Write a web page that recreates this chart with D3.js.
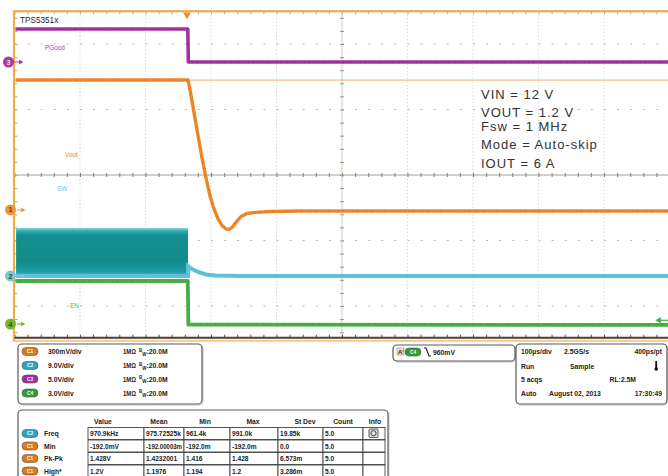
<!DOCTYPE html>
<html><head><meta charset="utf-8">
<script src="https://cdn.jsdelivr.net/npm/d3@7"></script>
<style>
body{margin:0;background:#fff;}
svg{display:block;font-family:"Liberation Sans",Arial,sans-serif;}
</style>
</head><body>
<svg id="c" width="668" height="476"></svg>
<script>
// ---------------- DATA ----------------
const timebaseUsPerDiv = 100;
const triggerPosDiv = 2.634;           // trigger point, divisions from left edge
// channel settings
const chNames = ["C1", "C2", "C3", "C4"];
const chVoltsPerDiv = [0.3, 9.0, 5.0, 3.0];
const chOffsetDiv = [-0.534, -1.542, 1.725, -2.275];
const chScaleLabels = ["300mV/div", "9.0V/div", "5.0V/div", "3.0V/div"];
const chTraceLabels = ["Vout", "SW", "PGood", "EN"];

// Vout (C1), time in us, volts
const voutT = [-263.4, 1.5, 4.6, 13.7, 22.9, 29.0, 35.1, 41.2, 47.3, 53.4, 59.5, 64.1, 68.7, 74.8, 82.4, 91.6, 105.3, 126.7, 172.5, 736.6];
const voutV = [0.595, 0.595, 0.550, 0.394, 0.238, 0.147, 0.064, 0.005, -0.041, -0.071, -0.087, -0.089, -0.080, -0.057, -0.030, -0.016, -0.011, -0.007, -0.005, -0.005];
// SW (C2) switching envelope before turn-off
const swBandT = [-261.0, 1.5];
const swBandHi = [6.6, 6.6];
const swBandLo = [0.0, 0.0];
// SW (C2) trace
const swT = [-261.0, 1.5, 1.6, 7.6, 16.8, 29.0, 42.7, 80.9, 736.6];
const swV = [0.0, 0.0, 1.37, 0.96, 0.55, 0.21, 0.07, 0.0, 0.0];
// PGood (C3)
const pgT = [-263.4, 1.2, 2.0, 736.6];
const pgV = [2.52, 2.52, 0.0, 0.0];
// EN (C4)
const enT = [-263.4, 1.2, 2.0, 736.6];
const enV = [1.97, 1.97, -0.03, -0.04];
// trigger
const trigLevelV = 0.17;               // C4 trigger level marker position (volts on C4)
const refLevelV = 0.595;               // C1 reference line after trigger

// annotation
const noteLines = ["VIN = 12 V", "VOUT = 1.2 V", "Fsw = 1 MHz", "Mode = Auto-skip", "IOUT = 6 A"];
const noteBaselines = [99, 117, 131, 149, 168];

// measurement table
const measCols = ["Value", "Mean", "Min", "Max", "St Dev", "Count", "Info"];
const measNames = ["Freq", "Min", "Pk-Pk", "High*"];
const measSrc = ["C2", "C1", "C1", "C1"];
const measValues = [
  ["970.9kHz", "975.72525k", "961.4k", "991.0k", "19.85k", "5.0"],
  ["-192.0mV", "-192.00003m", "-192.0m", "-192.0m", "0.0", "5.0"],
  ["1.428V", "1.4232001", "1.416", "1.428", "6.573m", "5.0"],
  ["1.2V", "1.1976", "1.194", "1.2", "3.286m", "5.0"]
];
// acquisition panel
const acqRows = [
  ["100µs/div", "2.5GS/s", "400ps/pt"],
  ["Run", "Sample", ""],
  ["5 acqs", "", "RL:2.5M"],
  ["Auto", "August 02, 2013", "17:30:49"]
];
const trigText = "960mV";

// ---------------- DRAWING ----------------
const svg = d3.select("#c");
const chColor = {C1: "#f0872a", C2: "#5cc2d8", C3: "#a8339f", C4: "#47b047"};
const pillColor = {C1: "#dd7a1c", C2: "#2fa6bf", C3: "#a22ca2", C4: "#2f9c35"};

const L = 14.5, R = 669.5, T = 11.25, B = 338.75;
const gx = d3.scaleLinear().domain([0, 10]).range([L, R]);
const gy = d3.scaleLinear().domain([-2.5, 2.5]).range([B, T]);
const xt = t => gx(triggerPosDiv + t / timebaseUsPerDiv);
const yc = (ci, v) => gy(v / chVoltsPerDiv[ci] + chOffsetDiv[ci]);

const defs = svg.append("defs");
defs.append("clipPath").attr("id", "plot").append("rect")
  .attr("x", L + 1).attr("y", T + 1).attr("width", R - L).attr("height", B - T - 1);
const g1 = defs.append("linearGradient").attr("id", "swg").attr("x1", 0).attr("x2", 0).attr("y1", 0).attr("y2", 1);
[[0, "#8fd6dc"], [0.06, "#2fb0b4"], [0.15, "#15908f"], [0.7, "#128a8a"], [0.92, "#1f9ea4"], [1, "#5cc2d8"]]
  .forEach(s => g1.append("stop").attr("offset", s[0]).attr("stop-color", s[1]));

const grid = svg.append("g");
d3.range(1, 10).forEach(i => {
  if (i === 5) return;
  grid.append("line").attr("x1", gx(i)).attr("x2", gx(i)).attr("y1", T).attr("y2", B)
    .attr("stroke", "#c4c4c4").attr("stroke-width", 1).attr("stroke-dasharray", "1,2.5");
});
[-2, -1, 1, 2].forEach(j => {
  grid.append("line").attr("x1", L).attr("x2", R).attr("y1", gy(j)).attr("y2", gy(j))
    .attr("stroke", "#b8b8b8").attr("stroke-width", 1.2).attr("stroke-dasharray", "2," + (65.5 / 5 - 2));
});
grid.append("line").attr("x1", L).attr("x2", R).attr("y1", gy(0)).attr("y2", gy(0)).attr("stroke", "#a89c90").attr("stroke-width", 1);
grid.append("line").attr("x1", gx(5)).attr("x2", gx(5)).attr("y1", T).attr("y2", B).attr("stroke", "#cfc8c0").attr("stroke-width", 1);

const minorX = d3.range(0, 10.01, 0.2);
const minorY = d3.range(-2.4, 2.41, 0.2);
function styleAxis(sel, col) {
  sel.select(".domain").remove();
  sel.selectAll("text").remove();
  sel.selectAll("line").attr("stroke", col).attr("stroke-width", 1);
}
svg.append("g").attr("transform", `translate(0,${T})`)
  .call(d3.axisBottom(gx).tickValues(minorX).tickSize(3)).call(styleAxis, "#b0a898");
svg.append("g").attr("transform", `translate(0,${gy(0) - 2})`)
  .call(d3.axisBottom(gx).tickValues(minorX).tickSize(4)).call(styleAxis, "#8a7e70");
svg.append("g").attr("transform", `translate(0,${B - 1})`)
  .call(d3.axisTop(gx).tickValues(minorX).tickSize(3)).call(styleAxis, "#5a4e44");
svg.append("g").attr("transform", `translate(${L},0)`)
  .call(d3.axisRight(gy).tickValues(minorY).tickSize(3)).call(styleAxis, "#b0a898");
svg.append("g").attr("transform", `translate(${gx(5) - 2},0)`)
  .call(d3.axisRight(gy).tickValues(minorY).tickSize(4)).call(styleAxis, "#a09484");

// frame
svg.append("line").attr("x1", L).attr("x2", 668).attr("y1", T).attr("y2", T).attr("stroke", "#f2a43a").attr("stroke-width", 2);
svg.append("line").attr("x1", L - 0.5).attr("x2", L - 0.5).attr("y1", T - 1).attr("y2", B + 3).attr("stroke", "#f2ac44").attr("stroke-width", 2.2);
svg.append("line").attr("x1", L).attr("x2", 668).attr("y1", B - 1).attr("y2", B - 1).attr("stroke", "#4a3f36").attr("stroke-width", 1.8);
svg.append("line").attr("x1", L - 1).attr("x2", 668).attr("y1", B + 2).attr("y2", B + 2).attr("stroke", "#f5c487").attr("stroke-width", 2.2);

// traces
const plot = svg.append("g").attr("clip-path", "url(#plot)");
const line = (ci, T_, V_) => d3.line().x((d, i) => xt(T_[i])).y((d, i) => yc(ci, V_[i]))(T_);

plot.append("line").attr("x1", xt(0)).attr("x2", R).attr("y1", yc(0, refLevelV)).attr("y2", yc(0, refLevelV))
  .attr("stroke", "#f4ae62").attr("stroke-width", 1);

const area = d3.area().x((d, i) => xt(swBandT[i])).y0((d, i) => yc(1, swBandLo[i])).y1((d, i) => yc(1, swBandHi[i]));
plot.append("path").attr("d", area(swBandT)).attr("fill", "url(#swg)");
plot.append("path").attr("d", line(1, swT, swV)).attr("fill", "none").attr("stroke", chColor.C2).attr("stroke-width", 4);

function trace(ci, T_, V_, col, w, dark) {
  plot.append("path").attr("d", line(ci, T_, V_)).attr("fill", "none").attr("stroke", col)
    .attr("stroke-width", w).attr("stroke-linejoin", "round");
  plot.append("path").attr("d", line(ci, T_, V_)).attr("fill", "none").attr("stroke", dark)
    .attr("stroke-width", 1).attr("stroke-opacity", 0.5).attr("stroke-dasharray", "1,3,2,5,1,2");
}
trace(3, enT, enV, chColor.C4, 3.8, "#2a8a2a");
trace(0, voutT, voutV, chColor.C1, 3.4, "#b85a10");
trace(2, pgT, pgV, chColor.C3, 3.6, "#6e1a68");

// trigger position marker
svg.append("path").attr("d", d3.symbol().type(d3.symbolTriangle).size(26)())
  .attr("transform", `translate(${xt(0)},${T + 3.5}) rotate(180)`).attr("fill", "#f08a24");
// trigger level marker (right)
const tly = yc(3, trigLevelV);
svg.append("line").attr("x1", 660).attr("x2", 668).attr("y1", tly).attr("y2", tly).attr("stroke", chColor.C4).attr("stroke-width", 1.2);
svg.append("path").attr("d", d3.symbol().type(d3.symbolTriangle).size(18)())
  .attr("transform", `translate(${659},${tly}) rotate(-90)`).attr("fill", chColor.C4);

// channel ground markers
const markerCol = {C1: "#eb963a", C2: "#78c6dc", C3: "#a83aa2", C4: "#6fb832"};
chNames.forEach((c, ci) => {
  const y = yc(ci, 0);
  const gx0 = ci === 2 ? 8.5 : 10.5;
  svg.append("circle").attr("cx", gx0).attr("cy", y).attr("r", 5.5).attr("fill", markerCol[c]);
  svg.append("text").attr("x", gx0).attr("y", y + 2.5).attr("text-anchor", "middle")
    .attr("font-size", 7).attr("font-weight", "bold").attr("fill", ci === 2 ? "#f6e0f4" : "#5a3a10").text(String(ci + 1));
  svg.append("line").attr("x1", gx0 + 6).attr("x2", gx0 + 12).attr("y1", y).attr("y2", y).attr("stroke", markerCol[c]).attr("stroke-width", 1);
  svg.append("path").attr("d", d3.symbol().type(d3.symbolTriangle).size(10)())
    .attr("transform", `translate(${gx0 + 12},${y}) rotate(90)`).attr("fill", markerCol[c]);
});

// labels in the plot
svg.append("text").attr("x", 20).attr("y", 23).attr("font-size", 8.2).attr("fill", "#222").text("TPS5351x");
const labelPos = [[65, 157, chColor.C1], [57, 191, "#70c4dc"], [45, 50, "#b040a8"], [70, 308, "#5cb85c"]];
chTraceLabels.forEach((t, i) => {
  svg.append("text").attr("x", labelPos[i][0]).attr("y", labelPos[i][1]).attr("font-size", 6.4)
    .attr("fill", labelPos[i][2]).text(t);
});
noteLines.forEach((t, i) => {
  svg.append("text").attr("x", 481).attr("y", noteBaselines[i]).attr("font-size", 13)
    .attr("letter-spacing", 1).attr("fill", "#333").text(t);
});

// ---------- bottom panels ----------
function panel(x, y, w, h) {
  svg.append("rect").attr("x", x + 1).attr("y", y + 1).attr("width", w).attr("height", h).attr("rx", 4)
    .attr("fill", "none").attr("stroke", "#d8d8d8").attr("stroke-width", 1.5);
  svg.append("rect").attr("x", x).attr("y", y).attr("width", w).attr("height", h).attr("rx", 4)
    .attr("fill", "#fff").attr("stroke", "#5a5a5a").attr("stroke-width", 1.2);
}
function pill(x, y, c) {
  svg.append("rect").attr("x", x).attr("y", y - 4).attr("width", 16).attr("height", 8).attr("rx", 4)
    .attr("fill", pillColor[c]).attr("stroke", "#555").attr("stroke-width", 0.6);
  svg.append("text").attr("x", x + 8).attr("y", y + 1.8).attr("text-anchor", "middle").attr("font-size", 4.8)
    .attr("font-weight", "bold").attr("fill", "#fff").text(c);
}
function bold(x, y, t, anchor, size, maxW) {
  const el = svg.append("text").attr("x", x).attr("y", y).attr("font-size", size || 7)
    .attr("font-weight", "bold").attr("fill", "#222").attr("text-anchor", anchor || "start").text(t);
  if (maxW && el.node().getComputedTextLength() > maxW) {
    el.attr("textLength", maxW).attr("lengthAdjust", "spacingAndGlyphs");
  }
  return el;
}

// channel panel
panel(18, 344, 184, 60);
const chRowY = [351.5, 365.5, 379, 393];
chNames.forEach((c, i) => {
  const y = chRowY[i];
  pill(22, y, c);
  bold(48, y + 2.5, chScaleLabels[i], "start", 6.8);
  bold(123, y + 2.5, "1MΩ", "start", 6.8, 13);
  const t = svg.append("text").attr("x", 139).attr("y", y + 2.5).attr("font-size", 6.8).attr("font-weight", "bold").attr("fill", "#222");
  t.append("tspan").attr("font-size", 4.5).attr("dy", -2.5).text("B");
  t.append("tspan").attr("font-size", 4.5).attr("dy", 4).text("W");
  t.append("tspan").attr("dy", -1.5).text(":20.0M");
});

// trigger panel
panel(393, 345, 122, 16);
svg.append("rect").attr("x", 397).attr("y", 348).attr("width", 7).attr("height", 7).attr("fill", "#f2e2c0").attr("stroke", "#777").attr("stroke-width", 0.5);
svg.append("text").attr("x", 398).attr("y", 354).attr("font-size", 6).attr("font-weight", "bold").attr("fill", "#222").text("A'");
pill(405, 352, "C4");
svg.append("path").attr("d", "M424,348 L426,348 L429,356 L431,356").attr("fill", "none").attr("stroke", "#222").attr("stroke-width", 1.2);
bold(433, 355, trigText, "start", 6.8);

// acquisition panel
panel(516, 344, 151, 60);
const acqY = [353.5, 368.5, 382, 396];
acqRows.forEach((r, i) => {
  bold(521, acqY[i], r[0], "start", 6.8);
  if (r[1]) bold(i === 0 ? 564 : (i === 1 ? 570 : 549), acqY[i], r[1], "start", 6.8);
  if (r[2]) bold(i === 2 ? 636 : 662, acqY[i], r[2], "end", 6.8);
});
svg.append("rect").attr("x", 655.3).attr("y", 361).attr("width", 1.8).attr("height", 7).attr("fill", "#111");
svg.append("circle").attr("cx", 656.2).attr("cy", 369).attr("r", 1.8).attr("fill", "#111");

// measurement panel
panel(18, 410, 370, 80);
const colEdges = [88, 144, 184, 230, 278, 323, 363, 385];
const headX = [103, 159, 205, 253, 305, 343, 375];
measCols.forEach((c, i) => bold(headX[i], 423.5, c, "middle", 6.8));
const rowTop = [427.5, 440, 452.5, 465];
measNames.forEach((n, r) => {
  const y = rowTop[r];
  pill(22, y + 6, measSrc[r]);
  bold(44, y + 8.5, n, "start", 6.8);
  for (let k = 0; k < 7; k++) {
    svg.append("rect").attr("x", colEdges[k]).attr("y", y).attr("width", colEdges[k + 1] - colEdges[k]).attr("height", 12)
      .attr("fill", "#fff").attr("stroke", "#444").attr("stroke-width", 0.9);
    if (k < 6) bold(colEdges[k] + 2, y + 8.5, measValues[r][k], "start", 6.6, colEdges[k + 1] - colEdges[k] - 4);
  }
});
svg.append("rect").attr("x", 369).attr("y", 429).attr("width", 9).attr("height", 8.5).attr("rx", 1)
  .attr("fill", "#ddd").attr("stroke", "#333").attr("stroke-width", 0.8);
svg.append("circle").attr("cx", 373.5).attr("cy", 433.2).attr("r", 2.6).attr("fill", "none").attr("stroke", "#333").attr("stroke-width", 0.9);
</script>
</body></html>
